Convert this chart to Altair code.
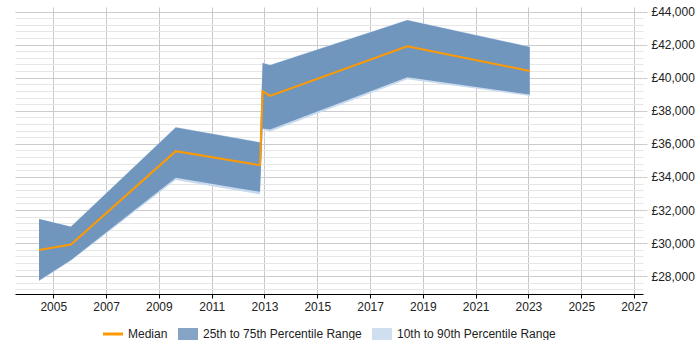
import altair as alt
import pandas as pd

years = [2004.46, 2005.67, 2009.64, 2012.83, 2012.93, 2013.21, 2018.41, 2023.05]
p10 = [27700, 28940, 33810, 32940, 36880, 36725, 39906, 38900]
p25 = [27747, 28978, 33947, 33102, 36924, 36863, 40027, 38977]
median = [29582, 29920, 35559, 34714, 39182, 38898, 41899, 40408]
p75 = [31454, 30989, 36984, 36079, 40891, 40752, 43469, 41857]
p90 = [31480, 31010, 37026, 36110, 40910, 40780, 43500, 41880]

series_names = ["Median", "25th to 75th Percentile Range", "10th to 90th Percentile Range"]
series_colors = ["#ff9900", "#86a5c6", "#cfdff0"]
series_shapes = ["M-1,-0.15H1V0.15H-1Z", "M-1,-0.6H1V0.6H-1Z", "M-1,-0.6H1V0.6H-1Z"]

x_ticks = list(range(2005, 2028, 2))
y_major = list(range(28000, 44001, 2000))
y_minor = list(range(27200, 44001, 400))

df = pd.DataFrame({"year": years, "p10": p10, "p25": p25, "median": median, "p75": p75, "p90": p90})
leg = pd.DataFrame({"series": series_names})

FONT = "Liberation Sans"

xscale = alt.Scale(domain=[2003.55, 2027.34], nice=False, zero=False)
yscale = alt.Scale(domain=[26925, 44272], nice=False, zero=False)

x_enc = alt.X("year:Q", scale=xscale, title=None,
              axis=alt.Axis(values=x_ticks, format="d", grid=True, gridColor="#c8c8c8",
                            domainColor="#000000", tickColor="#000000", tickSize=4,
                            labelFont=FONT, labelFontSize=12, labelColor="#222222",
                            labelPadding=3, labelFlush=False))

band90 = alt.Chart(df).mark_area(color="#c8daee", opacity=1).encode(
    x=x_enc,
    y=alt.Y("p10:Q", scale=yscale, title=None,
            axis=alt.Axis(orient="left", values=y_minor, grid=True, gridColor="#e6e6e6",
                          labels=False, ticks=False, domain=False)),
    y2="p90:Q",
)

band75 = alt.Chart(df).mark_area(color="#7096be", opacity=1).encode(
    x=x_enc,
    y=alt.Y("p25:Q", scale=yscale, title=None,
            axis=alt.Axis(orient="right", values=y_major, grid=True, gridColor="#cccccc",
                          ticks=True, tickColor="#cccccc", tickSize=4, domain=False,
                          labelExpr="'£' + format(datum.value, ',')",
                          labelFont=FONT, labelFontSize=12, labelColor="#222222",
                          labelPadding=4)),
    y2="p75:Q",
)

med = alt.Chart(df).mark_line(color="#ff9900", strokeWidth=2).encode(
    x=x_enc,
    y=alt.Y("median:Q", scale=yscale, axis=None),
)

def make_legend():
    return alt.Legend(orient="none", legendX=88, legendY=317, direction="horizontal", title=None,
                      symbolSize=400, symbolOpacity=1, symbolStrokeWidth=0,
                      labelFont=FONT, labelFontSize=12, labelColor="#222222",
                      labelOffset=5, columnPadding=10)

legend_layer = alt.Chart(leg).mark_point(filled=True, opacity=0).encode(
    color=alt.Color("series:N",
                    scale=alt.Scale(domain=series_names, range=series_colors),
                    legend=make_legend()),
    shape=alt.Shape("series:N",
                    scale=alt.Scale(domain=series_names, range=series_shapes),
                    legend=make_legend()),
)

chart = alt.layer(band90, band75, med, legend_layer).resolve_axis(y="independent").properties(
    width=628, height=287,
    padding={"left": 15, "top": 5, "right": 0, "bottom": 0},
    background="#ffffff",
).configure_view(stroke=None)

chart.save("out.html", embed_options={"renderer": "svg", "actions": False})
